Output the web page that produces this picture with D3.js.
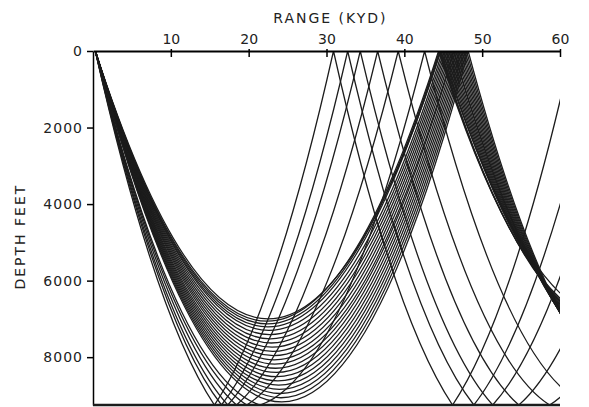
<!DOCTYPE html>
<meta charset="utf-8">
<script src="https://d3js.org/d3.v7.min.js"></script>
<style>
  body { margin: 0; background: #fff; }
  text { font-family: "DejaVu Sans", sans-serif; fill: #222; }
</style>
<div id="chart"></div>
<script>
// ranges in kyd, depths in feet
const rangeTicks = [10, 20, 30, 40, 50, 60];
const depthTicks = [0, 2000, 4000, 6000, 8000];
const bottomDepth = 9250;   // sea floor = lower edge of the plot
const sourceRange = 0.3;    // rays leave the surface here

// turning point of each ray (range kyd, depth ft).
// outer ray, the tight bundle just inside it, the fan of refracted rays,
// then the steep rays whose turning depth is below the floor (they bounce).
const turnRange = [22.5,
                   22.35, 22.4, 22.45,
                   22.6, 22.7, 22.8, 22.9, 23.0, 23.1, 23.2, 23.3, 23.35, 23.45,
                   23.55, 23.65, 23.75, 23.85, 23.95, 24.05, 24.15, 24.25,
                   23.3, 23.3, 23.3, 23.3, 23.3, 23.3];
const turnDepth = [7000,
                   7060, 7130, 7210,
                   7300, 7410, 7520, 7630, 7740, 7850, 7960, 8070, 8180, 8290,
                   8400, 8510, 8620, 8730, 8840, 8950, 9060, 9170,
                   9310, 9475, 9683, 9921, 10133, 10418];

const W = 589, H = 407;
const margin = {top: 51, right: 29, bottom: 2, left: 93};
const width = W - margin.left - margin.right,
      height = H - margin.top - margin.bottom;

const svg = d3.select("#chart").append("svg")
    .attr("width", W)
    .attr("height", H);

const g = svg.append("g")
    .attr("transform", `translate(${margin.left},${margin.top})`);

const x = d3.scaleLinear().domain([0, 60]).range([0, width]);
const y = d3.scaleLinear().domain([0, bottomDepth]).range([0, height]);

g.append("clipPath").attr("id", "plot")
  .append("rect")
    .attr("width", width).attr("height", height);

// each ray: parabolic arcs, mirrored at the surface and at the floor
function rayPath(rv, dv) {
    const L = rv - sourceRange;
    const hit = dv > bottomDepth;
    const half = hit ? L - L * Math.sqrt(1 - bottomDepth / dv) : L;
    const low = hit ? bottomDepth : dv;
    const cd = dv * half / L;   // depth of the bezier control point
    const p = d3.path();
    let r = sourceRange;
    p.moveTo(x(r), y(0));
    while (r < 62) {
        p.quadraticCurveTo(x(r + half / 2), y(cd), x(r + half), y(low));
        r += half;
        p.quadraticCurveTo(x(r + half / 2), y(cd), x(r + half), y(0));
        r += half;
    }
    return p.toString();
}

g.append("g")
    .attr("clip-path", "url(#plot)")
  .selectAll("path")
  .data(d3.range(turnDepth.length))
  .join("path")
    .attr("d", i => rayPath(turnRange[i], turnDepth[i]))
    .attr("fill", "none")
    .attr("stroke", "#1c1c1c")
    .attr("stroke-width", 1.3);

// axes
const xAxis = g.append("g")
    .call(d3.axisTop(x).tickValues(rangeTicks).tickSize(-6).tickSizeOuter(0).tickPadding(7));
xAxis.select(".domain").attr("stroke-width", 2.2);
xAxis.selectAll(".tick line").attr("stroke-width", 1.5).attr("y1", -2);
xAxis.selectAll("text").style("font-size", "14px").attr("fill", "#222");

const yAxis = g.append("g")
    .call(d3.axisLeft(y).tickValues(depthTicks).tickFormat(d3.format("d"))
        .tickSize(6).tickSizeOuter(0).tickPadding(4));
yAxis.select(".domain").attr("stroke-width", 1.5);
yAxis.selectAll(".tick line").attr("stroke-width", 1.5);
yAxis.selectAll("text").style("font-size", "14px").attr("fill", "#222")
    .style("letter-spacing", "1px");

g.append("line")
    .attr("x1", x(0)).attr("x2", x(60))
    .attr("y1", y(bottomDepth)).attr("y2", y(bottomDepth))
    .attr("stroke", "#1c1c1c").attr("stroke-width", 2.5);

svg.append("text")
    .attr("x", margin.left + x(30.5))
    .attr("y", 23)
    .attr("text-anchor", "middle")
    .style("font-size", "14px")
    .style("letter-spacing", "2px")
    .text("RANGE (KYD)");

svg.append("text")
    .attr("transform", `translate(25,${margin.top + y(4850)}) rotate(-90)`)
    .attr("text-anchor", "middle")
    .style("font-size", "14px")
    .style("letter-spacing", "2px")
    .text("DEPTH  FEET");
</script>
